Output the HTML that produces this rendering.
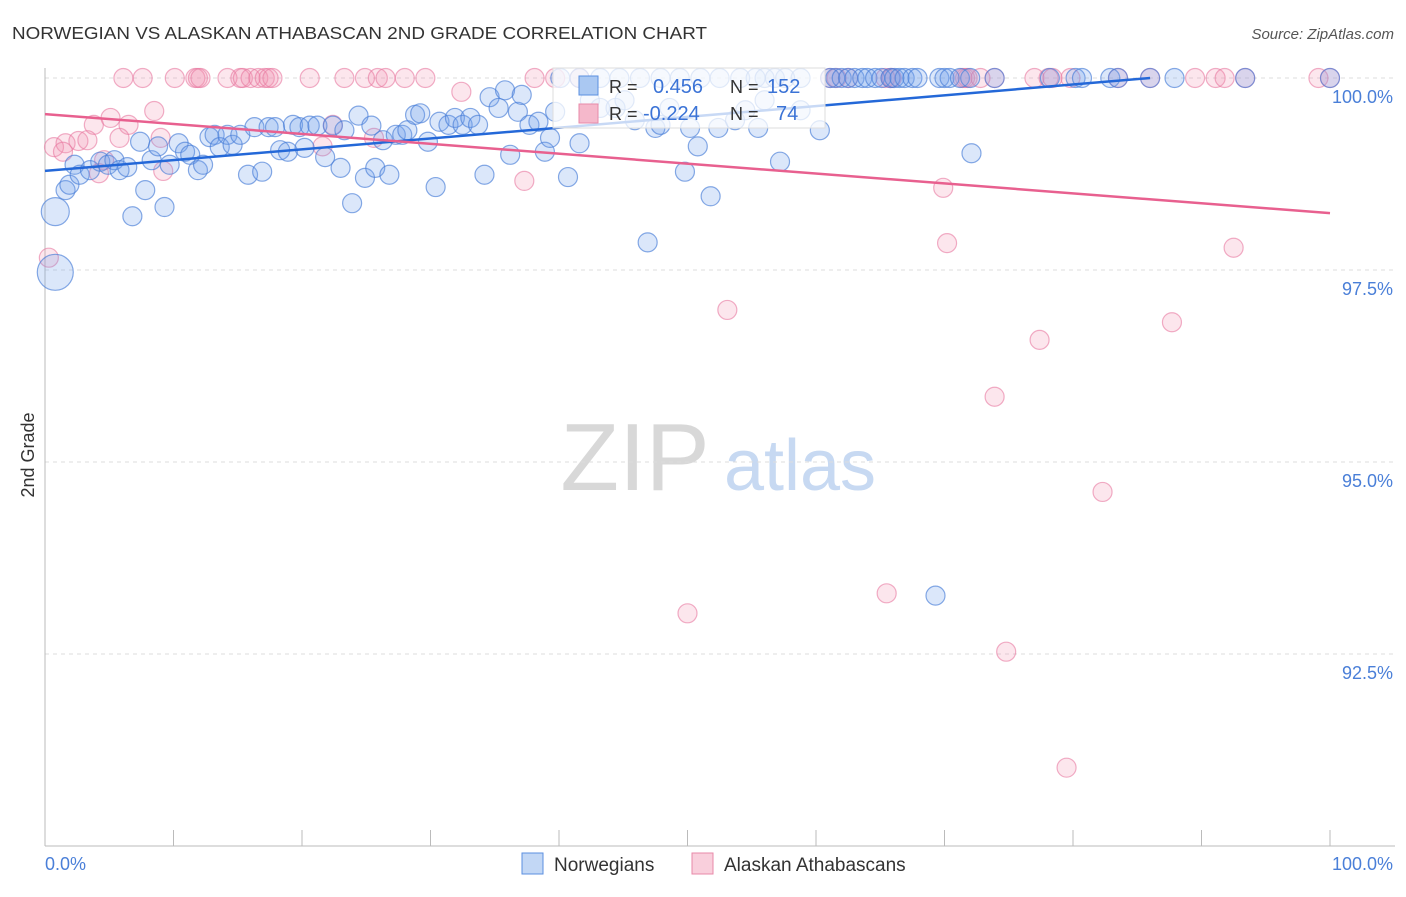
<!DOCTYPE html>
<html><head><meta charset="utf-8"><style>
body{margin:0;background:#fff;font-family:"Liberation Sans",sans-serif;}
svg text{font-family:"Liberation Sans",sans-serif;}
</style></head><body>
<svg id="chart" width="1406" height="892" xmlns="http://www.w3.org/2000/svg">
<text x="12" y="39" font-size="17.5" fill="#333" textLength="695" lengthAdjust="spacingAndGlyphs">NORWEGIAN VS ALASKAN ATHABASCAN 2ND GRADE CORRELATION CHART</text>
<text x="1394" y="39" font-size="15" fill="#555" text-anchor="end" font-style="italic">Source: ZipAtlas.com</text>
<g>
<text x="635" y="490" font-size="96" fill="#d8d8d8" text-anchor="middle" font-family="Liberation Serif,serif">ZIP</text>
<text x="800" y="490" font-size="72" fill="#c7d9f2" text-anchor="middle">atlas</text>
</g>
<g id="grid"></g>
<g id="axes"></g>
<g id="points"></g>
<g id="lines"></g>
<g>
<rect x="553" y="68" width="272" height="60" fill="#fff" fill-opacity="0.75" stroke="#ddd"/>
<rect x="579" y="76" width="19" height="19" fill="#aac8f2" stroke="#5b8fe0"/>
<rect x="579" y="104" width="19" height="19" fill="#f5b8cb" stroke="#e88aa8"/>
<text x="609" y="93" font-size="18" fill="#333">R =</text>
<text x="653" y="93" font-size="20" fill="#3b73d6">0.456</text>
<text x="730" y="93" font-size="18" fill="#333">N =</text>
<text x="767" y="93" font-size="20" fill="#3b73d6">152</text>
<text x="609" y="120" font-size="18" fill="#333">R =</text>
<text x="643" y="120" font-size="20" fill="#3b73d6">-0.224</text>
<text x="730" y="120" font-size="18" fill="#333">N =</text>
<text x="776" y="120" font-size="20" fill="#3b73d6">74</text>
</g>
<text transform="translate(34,455) rotate(-90)" font-size="18" fill="#333" text-anchor="middle">2nd Grade</text>
<g>
<rect x="522" y="853" width="21" height="21" fill="#c2d7f5" stroke="#5b8fe0"/>
<text x="554" y="871" font-size="19" fill="#333">Norwegians</text>
<text x="724" y="871" font-size="19" fill="#333">Alaskan Athabascans</text>
<rect x="692" y="853" width="21" height="21" fill="#f9cfdc" stroke="#e88aa8"/>
</g>
</svg>
<script>
const blueX=[0.8,0.8,1.6,1.9,2.3,2.7,3.5,4.3,4.9,5.4,5.8,6.4,6.8,7.4,7.8,8.3,8.8,9.3,9.7,10.4,10.9,11.3,11.9,12.3,12.8,13.2,13.6,14.2,14.6,15.2,15.8,16.3,16.9,17.4,17.9,18.3,18.9,19.3,19.8,20.2,20.6,21.2,21.8,22.4,23.0,23.3,23.9,24.4,24.9,25.4,25.7,26.3,26.8,27.3,27.8,28.2,28.8,29.2,29.8,30.4,30.7,31.4,31.9,32.5,33.1,33.7,34.2,34.6,35.3,35.8,36.2,36.8,37.1,37.7,38.4,38.9,39.3,39.7,40.7,41.6,42.4,43.2,44.4,45.1,45.9,46.9,47.5,47.9,48.6,49.8,50.2,50.8,51.8,52.4,53.7,54.5,55.5,56.0,57.2,58.8,60.3,69.3,72.1,
40.1,41.6,43.2,44.7,46.3,47.9,49.4,51.0,52.5,54.1,55.3,56.0,56.8,57.6,58.8,61.1,61.5,62.0,62.5,63.0,63.6,64.0,64.6,65.1,65.8,66.1,66.5,66.9,67.5,67.9,69.6,70.0,70.4,71.2,72.0,73.9,78.2,80.2,80.7,82.9,83.5,86.0,87.9,93.4,100];
const blueY=[97.47,98.26,98.54,98.61,98.87,98.74,98.80,98.91,98.87,98.93,98.80,98.84,98.20,99.17,98.54,98.93,99.11,98.32,98.87,99.15,99.04,99.00,98.80,98.87,99.23,99.26,99.10,99.26,99.13,99.26,98.74,99.36,98.78,99.36,99.36,99.06,99.04,99.39,99.36,99.09,99.38,99.38,98.97,99.38,98.83,99.32,98.37,99.51,98.70,99.38,98.83,99.19,98.74,99.26,99.26,99.32,99.52,99.54,99.17,98.58,99.43,99.39,99.48,99.39,99.48,99.39,98.74,99.75,99.61,99.84,99.00,99.56,99.78,99.39,99.43,99.04,99.22,99.56,98.71,99.15,99.71,99.61,99.61,99.71,99.45,97.86,99.35,99.39,99.61,98.78,99.35,99.11,98.46,99.35,99.45,99.58,99.35,99.71,98.91,99.58,99.32,93.26,99.02,
100,100,100,100,100,100,100,100,100,100,100,100,100,100,100,100,100,100,100,100,100,100,100,100,100,100,100,100,100,100,100,100,100,100,100,100,100,100,100,100,100,100,100,100,100];
const blueSize=[18,14];
const pinkX=[6.1,7.6,10.1,11.7,11.9,12.1,14.2,15.2,15.4,16.0,16.6,17.1,17.4,17.7,20.6,23.3,24.9,25.9,26.5,28.0,29.6,38.1,39.7,41.6,61.1,61.6,62.5,65.4,65.8,65.9,71.4,71.6,71.8,72.8,73.9,77.0,78.1,78.4,79.8,83.5,86.0,89.5,91.1,91.8,93.4,99.1,100,
5.1,3.8,6.5,8.5,5.8,0.7,1.6,2.6,3.3,1.4,4.6,4.2,9.0,9.2,22.4,21.6,25.6,32.4,37.3,0.3,
53.1,69.9,70.2,77.4,73.9,87.7,92.5,82.3,65.5,50.0,74.8,79.5];
const pinkY=[100,100,100,100,100,100,100,100,100,100,100,100,100,100,100,100,100,100,100,100,100,100,100,100,100,100,100,100,100,100,100,100,100,100,100,100,100,100,100,100,100,100,100,100,100,100,100,
99.48,99.39,99.39,99.57,99.22,99.10,99.15,99.18,99.19,99.04,98.93,98.76,99.22,98.79,99.39,99.11,99.22,99.82,98.66,97.66,
96.98,98.57,97.85,96.59,95.85,96.82,97.79,94.61,93.29,93.03,92.53,91.02];
const yTicks=[100,97.5,95,92.5];
const yTickLabels=["100.0%","97.5%","95.0%","92.5%"];
const xTicks=[0,10,20,30,40,50,60,70,80,90,100];
const xTickLabels=["0.0%","100.0%"];
const blueTrend=[[0,98.79],[86,100]];
const pinkTrend=[[0,99.53],[100,98.24]];

const NS="http://www.w3.org/2000/svg";
const sx=v=>45+v*12.85;
const sy=v=>78+(100-v)*76.8;
function mk(tag,attrs,parent){const e=document.createElementNS(NS,tag);for(const k in attrs)e.setAttribute(k,attrs[k]);parent.appendChild(e);return e;}
const grid=document.getElementById('grid'),axes=document.getElementById('axes'),pts=document.getElementById('points'),lines=document.getElementById('lines');
yTicks.forEach((t,i)=>{
 const l=mk('line',{x1:45,x2:1395,y1:sy(t),y2:sy(t),stroke:'#ddd','stroke-dasharray':'4,4'},grid);
 
 
 const tx=mk('text',{x:1393,y:sy(t)+25,'font-size':18,fill:'#4a7fd8','text-anchor':'end'},axes);
 tx.textContent=yTickLabels[i];
 
 
});
let a=mk('line',{x1:45,x2:45,y1:68,y2:846,stroke:'#bbb'},axes);


a=mk('line',{x1:45,x2:1395,y1:846,y2:846,stroke:'#bbb'},axes);


xTicks.forEach(t=>{
 const l=mk('line',{x1:sx(t),x2:sx(t),y1:830,y2:846,stroke:'#bbb'},axes);
 
 
});
[[0,'start',45],[100,'end',1393]].forEach((d,i)=>{
 const tx=mk('text',{x:d[2],y:870,'font-size':18,fill:'#4a7fd8','text-anchor':d[1]},axes);
 tx.textContent=xTickLabels[i];
 
 
});
pinkX.forEach((x,i)=>{
 const c=mk('circle',{cx:sx(x),cy:sy(pinkY[i]),r:9.5,fill:'rgba(240,140,175,0.22)',stroke:'rgba(232,120,160,0.6)','stroke-width':1.2},pts);
 
 
});
blueX.forEach((x,i)=>{
 const r=i<blueSize.length?blueSize[i]:9.5;
 const c=mk('circle',{cx:sx(x),cy:sy(blueY[i]),r:r,fill:'rgba(110,160,235,0.25)',stroke:'rgba(70,125,215,0.65)','stroke-width':1.2},pts);
 
 
});
let t=mk('line',{x1:sx(blueTrend[0][0]),y1:sy(blueTrend[0][1]),x2:sx(blueTrend[1][0]),y2:sy(blueTrend[1][1]),stroke:'#2468d8','stroke-width':2.5},lines);


t=mk('line',{x1:sx(pinkTrend[0][0]),y1:sy(pinkTrend[0][1]),x2:sx(pinkTrend[1][0]),y2:sy(pinkTrend[1][1]),stroke:'#e8608f','stroke-width':2.5},lines);


</script>
</body></html>
